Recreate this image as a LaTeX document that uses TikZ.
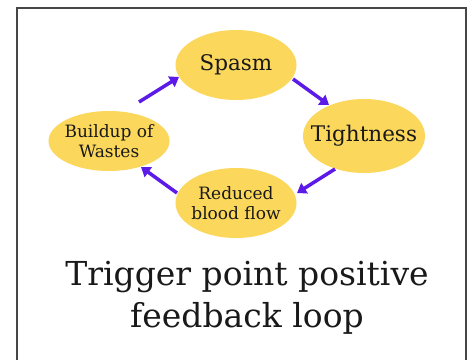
\documentclass[tikz,border=0pt]{standalone}
\usepackage{fontspec}
\setmainfont{DejaVu Serif}
\usetikzlibrary{arrows.meta,shapes.geometric}
\definecolor{ellfill}{RGB}{251,215,92}
\definecolor{arrcol}{RGB}{92,26,232}
\definecolor{framecol}{RGB}{70,70,70}
\tikzset{
  ell/.style={ellipse, fill=ellfill, inner sep=0pt},
  lbl/.style={align=center, text=black!90, inner sep=0pt},
  arr/.style={arrcol, line width=3.5pt, -{Triangle[length=9pt,width=12pt]}}
}
\begin{document}
\begin{tikzpicture}[x=1pt,y=-1pt]
\useasboundingbox (0,0) rectangle (471,359);
\fill[white] (0,0) rectangle (471,359);
\begin{scope}
\clip (0,0) rectangle (471,359);
\draw[framecol, line width=1.8pt] (17,8) rectangle (466,375);
\end{scope}
\node[ell, minimum width=121pt, minimum height=70pt,
  label={[lbl, font=\fontsize{21.5}{24}\selectfont]center:Spasm}] (spasm) at (236,65) {};
\node[ell, minimum width=122pt, minimum height=74pt,
  label={[lbl, font=\fontsize{21.5}{24}\selectfont]center:Tightness}] (tight) at (364,136) {};
\node[ell, minimum width=121pt, minimum height=60pt,
  label={[lbl, font=\fontsize{17}{19.5}\selectfont]center:Buildup of\\Wastes}] (build) at (109,141) {};
\node[ell, minimum width=121pt, minimum height=70pt,
  label={[lbl, font=\fontsize{17}{19.5}\selectfont]center:Reduced\\blood flow}] (reduced) at (236,203) {};
\coordinate (a1s) at (139,102); \coordinate (a1e) at (179,77);
\coordinate (a2s) at (293,79); \coordinate (a2e) at (329,105);
\coordinate (a3s) at (335,169); \coordinate (a3e) at (297,193);
\coordinate (a4s) at (177,193); \coordinate (a4e) at (141,167);
\draw[arr] (a1s) -- (a1e);
\draw[arr] (a2s) -- (a2e);
\draw[arr] (a3s) -- (a3e);
\draw[arr] (a4s) -- (a4e);
\node[font=\fontsize{33}{42}\selectfont, align=center, text=black!90] (title) at (247,298) {Trigger point positive\\feedback loop};
\end{tikzpicture}
\end{document}
